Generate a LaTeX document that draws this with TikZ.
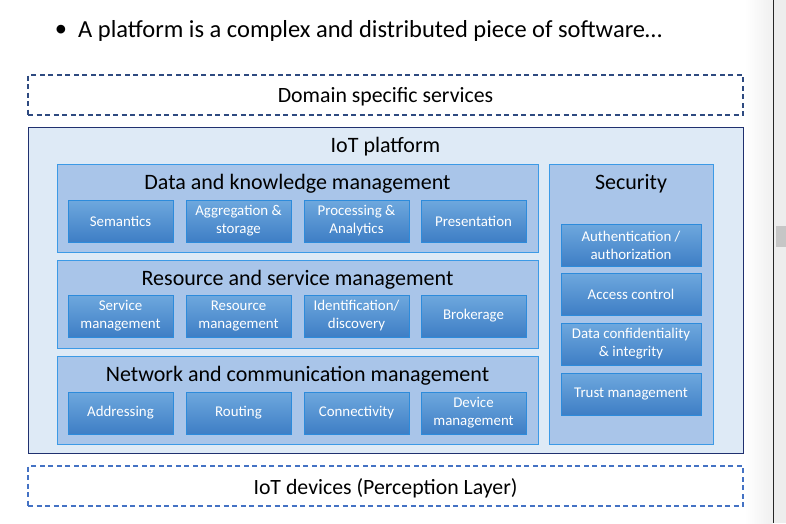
\documentclass[tikz,border=0pt]{standalone}
\usepackage{fontspec}
\setmainfont{Carlito}
\definecolor{platfill}{HTML}{DEEAF6}
\definecolor{platline}{HTML}{20306F}
\definecolor{midfill}{HTML}{A9C5E9}
\definecolor{midline}{HTML}{3C9AE6}
\definecolor{intop}{HTML}{6EA8DE}
\definecolor{inbot}{HTML}{3E7EC5}
\definecolor{inline}{HTML}{2D8BDB}
\definecolor{dashA}{HTML}{2E4A80}
\definecolor{dashB}{HTML}{4472C4}
\begin{document}
\begin{tikzpicture}[x=1pt,y=-1pt,
  dashbox/.style={draw, dash pattern=on 5pt off 3.5pt, line width=1.1pt, minimum width=715pt, minimum height=40pt, inner sep=0pt},
  dashtext/.style={font=\fontsize{21.8}{26}\selectfont, inner sep=0pt},
  platbox/.style={draw=platline, fill=platfill, line width=0.9pt, minimum width=715pt, minimum height=326pt, inner sep=0pt},
  midbox/.style={draw=midline, fill=midfill, line width=0.8pt, inner sep=0pt},
  title/.style={font=\fontsize{22}{26}\selectfont, inner sep=0pt},
  inbox/.style={draw=inline, line width=0.8pt, top color=intop, bottom color=inbot, text=white, minimum width=105pt, minimum height=42pt, align=center, font=\fontsize{14.9}{18}\selectfont, inner sep=0pt},
  secbox/.style={inbox, minimum width=140pt}]
\useasboundingbox (0,0) rectangle (786,523);
% scrollbar area
\shade[left color=white, right color=gray!12] (745,0) rectangle (772.5,523);
\fill[gray!14] (773,0) rectangle (786,523);
\draw[line width=1pt, black!85] (773,0) -- (773,523);
\fill[gray!45] (776,226) rectangle (786,247);
% bullet line
\node[inner sep=0pt, font=\fontsize{24.5}{28}\selectfont] (bul) at (61,31) {•};
\node[anchor=west, inner sep=0pt, font=\fontsize{24.5}{28}\selectfont] (head) at (78,31) {A platform is a complex and distributed piece of software…};
% domain services
\node[dashbox, draw=dashA] (dom) at (385.5,95) {};
\node[dashtext] (domt) at (385.5,97) {Domain specific services};
% platform
\node[platbox] (plat) at (385.5,290) {};
\node[title] (platt) at (385.5,147) {IoT platform};
% data and knowledge
\node[midbox, minimum width=481pt, minimum height=88pt] (dk) at (297.5,208) {};
\node[title] (dkt) at (297.5,184) {Data and knowledge management};
\node[inbox] (sem) at (120.5,221) {Semantics};
\node[inbox] (agg) at (238.5,221) {Aggregation \&\\storage};
\node[inbox] (proc) at (356.5,221) {Processing \&\\Analytics};
\node[inbox] (pres) at (473.5,221) {Presentation};
% resource and service
\node[midbox, minimum width=481pt, minimum height=88pt] (rs) at (297.5,304) {};
\node[title] (rst) at (297.5,280) {Resource and service management};
\node[inbox] (svc) at (120.5,316) {Service\\management};
\node[inbox] (res) at (238.5,316) {Resource\\management};
\node[inbox] (ident) at (356.5,316) {Identification/\\discovery};
\node[inbox] (brok) at (473.5,316) {Brokerage};
% network and communication
\node[midbox, minimum width=481pt, minimum height=88pt] (nc) at (297.5,400) {};
\node[title] (nct) at (297.5,376) {Network and communication management};
\node[inbox] (addr) at (120.5,413) {Addressing};
\node[inbox] (rout) at (238.5,413) {Routing};
\node[inbox] (conn) at (356.5,413) {Connectivity};
\node[inbox] (dev) at (473.5,413) {Device\\management};
% security
\node[midbox, minimum width=164pt, minimum height=280pt] (sec) at (631,304) {};
\node[title] (sect) at (631,184) {Security};
\node[secbox] (auth) at (631,245) {Authentication /\\authorization};
\node[secbox] (acc) at (631,294) {Access control};
\node[secbox] (conf) at (631,344) {Data confidentiality\\\& integrity};
\node[secbox] (trust) at (631,394) {Trust management};
% devices
\node[dashbox, draw=dashB] (devs) at (385.5,486) {};
\node[dashtext] (devst) at (385.5,488) {IoT devices (Perception Layer)};
\end{tikzpicture}
\end{document}
